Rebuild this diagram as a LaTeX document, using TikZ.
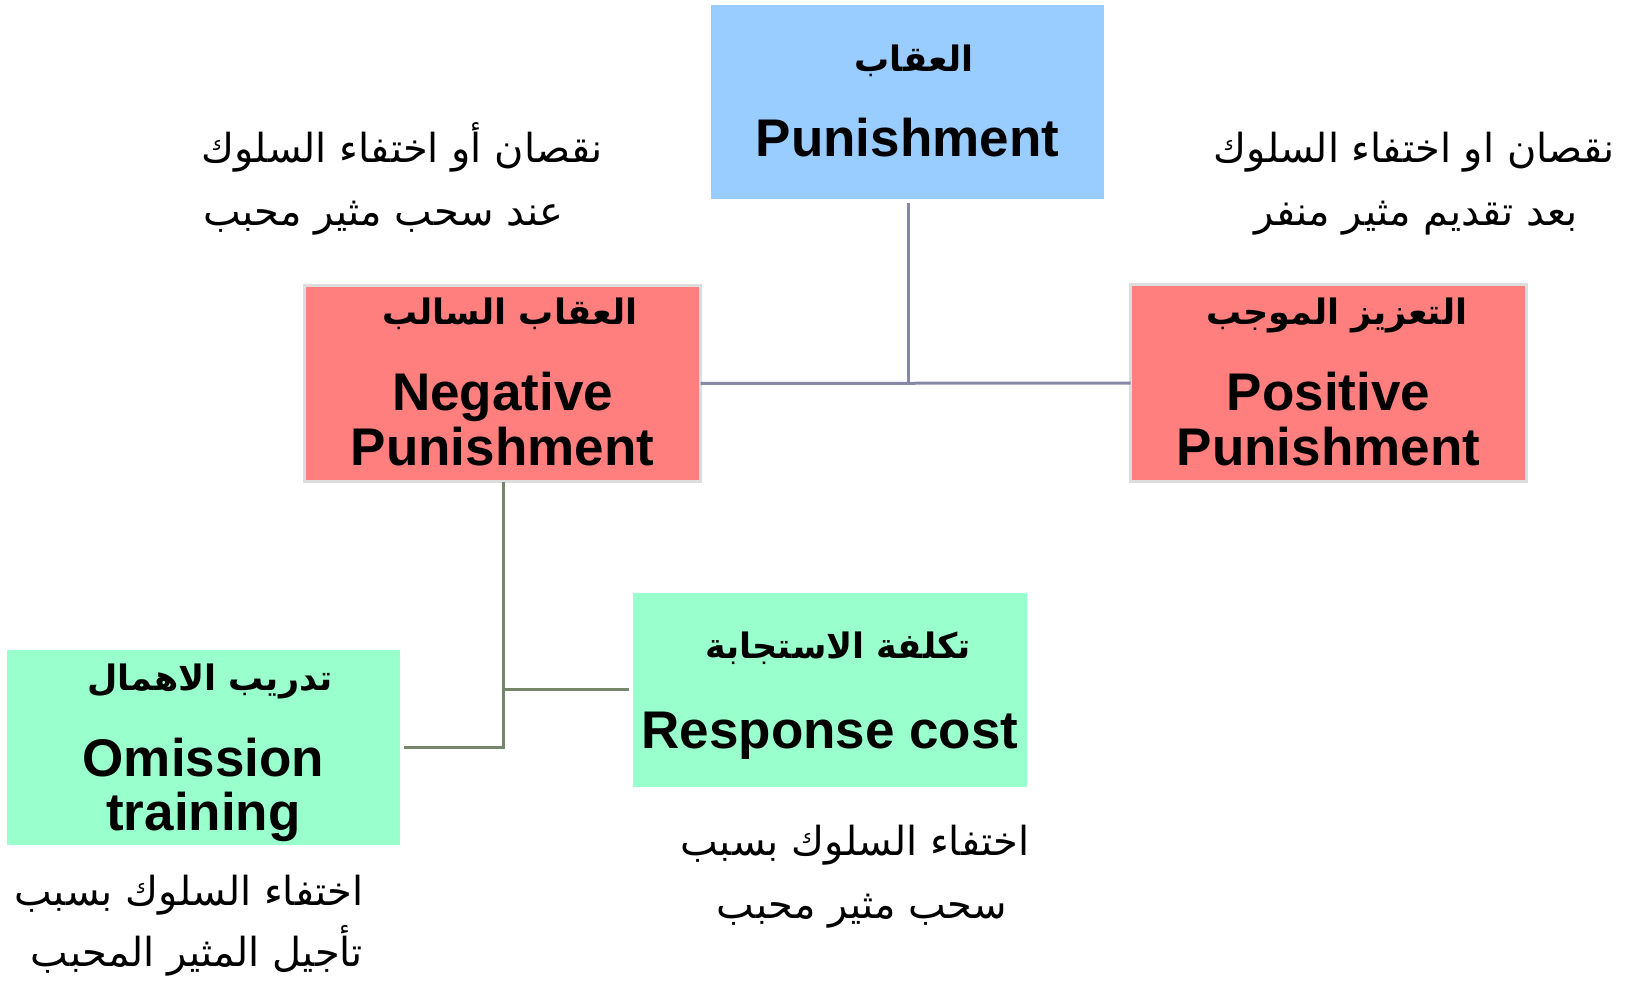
\documentclass[tikz,border=0pt]{standalone}
\usepackage{fontspec}
\setmainfont{Liberation Sans}
\newfontfamily\arabicfont[Script=Arabic]{DejaVu Sans}
\TeXXeTstate=1
\definecolor{blueBox}{HTML}{99CCFF}
\definecolor{redBox}{HTML}{FF7F7F}
\definecolor{greenBox}{HTML}{99FFCC}
\definecolor{redEdge}{HTML}{DDDDDD}
\definecolor{lineBlue}{HTML}{8787A8}
\definecolor{lineGreen}{HTML}{76866A}
\tikzset{
  box/.style={inner sep=0pt, outer sep=0pt, anchor=north west},
  redbox/.style={box, fill=redBox, draw=redEdge, line width=3pt},
  en/.style={font=\fontsize{53}{56}\selectfont\bfseries, anchor=base, inner sep=0pt},
  artitle/.style={font=\fontsize{35}{40}\selectfont\arabicfont\bfseries, anchor=base, inner sep=0pt},
  arnote/.style={font=\fontsize{40}{44}\selectfont\arabicfont, anchor=base, inner sep=0pt},
  blueline/.style={draw=lineBlue, line width=3pt},
  greenline/.style={draw=lineGreen, line width=3pt},
}
\begin{document}
\begin{tikzpicture}[x=1pt,y=-1pt]
\useasboundingbox (0,0) rectangle (1633,981);
% boxes
\node[box, fill=blueBox, minimum width=393pt, minimum height=194pt] (pun) at (711,5) {};
\node[redbox, minimum width=396pt, minimum height=196pt] (neg) at (304.5,285.5) {};
\node[redbox, minimum width=396pt, minimum height=197pt] (pos) at (1130.5,284.5) {};
\node[box, fill=greenBox, minimum width=393pt, minimum height=195pt] (omi) at (7,650) {};
\node[box, fill=greenBox, minimum width=394pt, minimum height=194pt] (res) at (633,593) {};
% box texts
\node[artitle] (punAr) at (914,72) {\beginR العقاب\endR};
\node[en] (punEn) at (907.5,157) {Punishment};
\node[artitle] (negAr) at (510,325) {\beginR العقاب السالب\endR};
\node[en] (negEn1) at (502.5,410) {Negative};
\node[en] (negEn2) at (502.5,465) {Punishment};
\node[artitle] (posAr) at (1337,325) {\beginR التعزيز الموجب\endR};
\node[en] (posEn1) at (1328.5,410) {Positive};
\node[en] (posEn2) at (1328.5,465) {Punishment};
\node[artitle] (omiAr) at (210,690) {\beginR تدريب الاهمال\endR};
\node[en] (omiEn1) at (203.5,776) {Omission};
\node[en] (omiEn2) at (203.5,830) {training};
\node[artitle] (resAr) at (838,658) {\beginR تكلفة الاستجابة\endR};
\node[en] (resEn) at (830,748) {Response cost};
% annotations
\node[arnote, anchor=base west] (n1a) at (201,163) {\beginR نقصان أو اختفاء السلوك\endR};
\node[arnote, anchor=base west] (n1b) at (203,226) {\beginR عند سحب مثير محبب\endR};
\node[arnote] (n2a) at (1414,163) {\beginR نقصان او اختفاء السلوك\endR};
\node[arnote] (n2b) at (1416,226) {\beginR بعد تقديم مثير منفر\endR};
\node[arnote] (n3a) at (189,905) {\beginR اختفاء السلوك بسبب\endR};
\node[arnote] (n3b) at (197,966) {\beginR تأجيل المثير المحبب\endR};
\node[arnote] (n4a) at (855,855) {\beginR اختفاء السلوك بسبب\endR};
\node[arnote] (n4b) at (862,918) {\beginR سحب مثير محبب\endR};
% connectors
\coordinate (j1) at (908,383.5);
\coordinate (j2) at (503,689);
\coordinate (j3) at (503,747);
\draw[blueline, shorten <=4pt] (pun.south -| j1) -- (j1);
\draw[blueline] (neg.east) -- (pos.west);
\draw[greenline] (neg.south -| j3) -- (j3) -- ([xshift=4pt]omi.east |- j3);
\draw[greenline] (j2) -- ([xshift=-4pt]res.west |- j2);
\end{tikzpicture}
\end{document}
